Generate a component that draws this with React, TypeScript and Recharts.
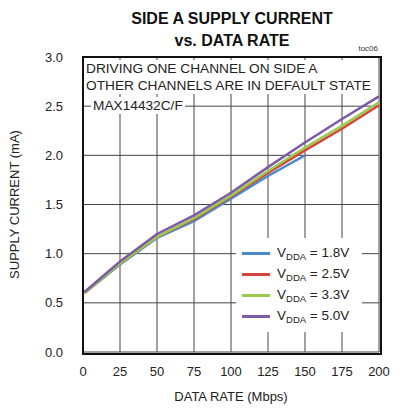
import { LineChart, Line, XAxis, YAxis, CartesianGrid } from "recharts";

const rates = [1, 25, 50, 75, 100, 125, 150, 175, 200];
const vdda18 = [0.6, 0.89, 1.16, 1.33, 1.56, 1.79, 2.0];
const vdda25 = [0.6, 0.9, 1.17, 1.35, 1.58, 1.82, 2.05, 2.27, 2.51];
const vdda33 = [0.6, 0.9, 1.17, 1.36, 1.59, 1.84, 2.08, 2.3, 2.54];
const vdda50 = [0.61, 0.92, 1.2, 1.39, 1.62, 1.88, 2.13, 2.37, 2.6];

const xTicks = [0, 25, 50, 75, 100, 125, 150, 175, 200];
const yTicks = [0, 0.5, 1.0, 1.5, 2.0, 2.5, 3.0];

const series = [
    { key: "v18", label: "1.8V", color: "#4a8bd0" },
    { key: "v25", label: "2.5V", color: "#d4443c" },
    { key: "v33", label: "3.3V", color: "#9bc94b" },
    { key: "v50", label: "5.0V", color: "#7d5aa8" },
];

const data = rates.map((r, i) => ({
    rate: r,
    v18: vdda18[i],
    v25: vdda25[i],
    v33: vdda33[i],
    v50: vdda50[i],
}));

const font = "'Liberation Sans', Arial, sans-serif";

function LegendBox() {
    return (
        <div style={{ position: "absolute", left: 236, top: 238, width: 126, background: "#fff", padding: "5px 0 5px 6px", boxSizing: "border-box", fontSize: 13.5, color: "#222" }}>
            {series.map((s) => (
                <div key={s.key} style={{ display: "flex", alignItems: "center", height: 21 }}>
                    <div style={{ width: 28, height: 3, background: s.color, marginRight: 7 }} />
                    <span style={{ whiteSpace: "nowrap" }}>
                        V<sub style={{ fontSize: 9.5, verticalAlign: -3 }}>DDA</sub> = {s.label}
                    </span>
                </div>
            ))}
        </div>
    );
}

export default function App() {
    return (
        <div style={{ position: "absolute", left: 0, top: 0, width: 400, height: 409, background: "#fff", fontFamily: font }}>
            {/* Title */}
            <div style={{ position: "absolute", left: 82, width: 300, top: 8, textAlign: "center", fontWeight: "bold", fontSize: 16, lineHeight: "22px", color: "#111" }}>
                SIDE A SUPPLY CURRENT
                <br />
                vs. DATA RATE
            </div>
            <div style={{ position: "absolute", right: 22, top: 44, fontSize: 8, color: "#333" }}>toc06</div>

            <LineChart width={400} height={409} data={data} margin={{ top: 57, right: 21, bottom: 0, left: 0 }}>
                <CartesianGrid stroke="#444" strokeWidth={1} vertical horizontal />
                <XAxis
                    dataKey="rate"
                    type="number"
                    domain={[0, 200]}
                    ticks={xTicks}
                    tickLine={false}
                    axisLine={false}
                    tickMargin={9}
                    tick={{ fill: "#222", fontSize: 13, fontFamily: font }}
                    height={57}
                    label={{ value: "DATA RATE (Mbps)", position: "insideBottom", offset: 8, fill: "#222", fontSize: 13, fontFamily: font }}
                />
                <YAxis
                    type="number"
                    domain={[0, 3]}
                    ticks={yTicks}
                    tickFormatter={(v: number) => v.toFixed(1)}
                    tickLine={false}
                    axisLine={false}
                    tickMargin={14}
                    tick={{ fill: "#222", fontSize: 13, fontFamily: font }}
                    width={83}
                    label={{ value: "SUPPLY CURRENT (mA)", angle: -90, position: "insideLeft", offset: 14, style: { textAnchor: "middle" }, fill: "#222", fontSize: 13, fontFamily: font }}
                />
                {series.map((s) => (
                    <Line key={s.key} dataKey={s.key} stroke={s.color} strokeWidth={2.5} dot={false} isAnimationActive={false} />
                ))}
            </LineChart>

            <LegendBox />

            {/* plot frame */}
            <div style={{ position: "absolute", left: 82, top: 56, width: 296, height: 295, border: "2px solid #111", pointerEvents: "none" }} />

            {/* annotations */}
            <div style={{ position: "absolute", left: 86, top: 60, background: "#fff", fontSize: 13.7, lineHeight: "17px", color: "#222", paddingRight: 3, whiteSpace: "nowrap" }}>
                DRIVING ONE CHANNEL ON SIDE A
                <br />
                OTHER CHANNELS ARE IN DEFAULT STATE
            </div>
            <div style={{ position: "absolute", left: 91, top: 97, background: "#fff", fontSize: 13.7, lineHeight: "17px", color: "#222", padding: "0 2px" }}>
                MAX14432C/F
            </div>
        </div>
    );
}
